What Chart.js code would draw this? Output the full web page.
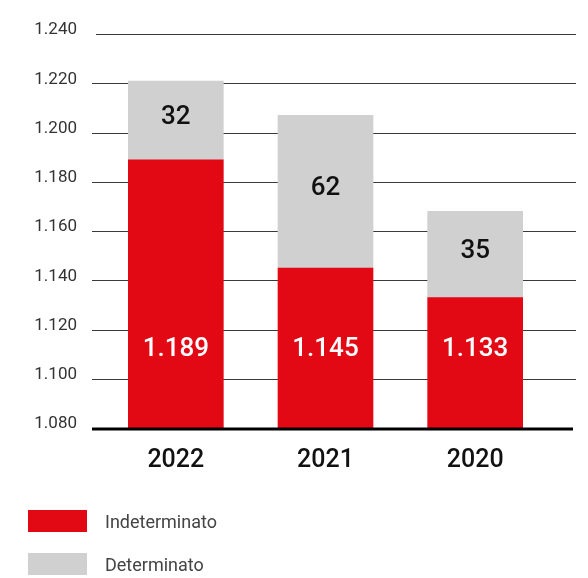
<!DOCTYPE html>
<html lang="it">
<head>
<meta charset="UTF-8">
<title>Indeterminato / Determinato</title>
<script src="https://cdn.jsdelivr.net/npm/chart.js"></script>
<style>
    html, body { margin: 0; padding: 0; background: #fff; }
    body { font-family: Roboto, sans-serif; width: 588px; height: 578px; position: relative; overflow: hidden; }
    #wrap { position: absolute; left: 0; top: 0; width: 588px; height: 578px; }
    #legend { position: absolute; left: 28px; top: 510px; }
    .item { display: flex; align-items: center; height: 22px; margin-bottom: 21px; }
    .box { width: 59px; height: 22px; margin-right: 18px; }
    .item span { font-size: 18px; color: #444; }
</style>
</head>
<body>
<div id="wrap"><canvas id="chart" width="588" height="578"></canvas></div>
<div id="legend"></div>

<script>
    // data
    const years = ['2022', '2021', '2020'];
    const indeterminato = [1189, 1145, 1133];
    const determinato = [32, 62, 35];
    const yTicks = [1080, 1100, 1120, 1140, 1160, 1180, 1200, 1220, 1240];

    const RED = '#e20814';
    const GREY = '#d0d0d0';

    const fmt = v => String(v).replace(/\B(?=(\d{3})+(?!\d))/g, '.');

    // gridlines drawn across to the right edge + thick baseline
    const gridPlugin = {
        id: 'grid',
        beforeDatasetsDraw(chart) {
            const ctx = chart.ctx;
            const y = chart.scales.y;
            ctx.save();
            yTicks.forEach(t => {
                if (t === yTicks[0]) return;
                const py = Math.round(y.getPixelForValue(t)) + 0.5;
                ctx.strokeStyle = '#3a3a3a';
                ctx.lineWidth = 1;
                ctx.beginPath();
                ctx.moveTo(t === 1240 ? 96 : 92, py);
                ctx.lineTo(576, py);
                ctx.stroke();
            });
            ctx.restore();
        },
        afterDatasetsDraw(chart) {
            const ctx = chart.ctx;
            const y = chart.scales.y;
            const py = y.getPixelForValue(yTicks[0]);
            ctx.save();
            ctx.strokeStyle = '#000';
            ctx.lineWidth = 3;
            ctx.beginPath();
            ctx.moveTo(92, py + 1);
            ctx.lineTo(573, py + 1);
            ctx.stroke();

            // value labels
            ctx.textAlign = 'center';
            ctx.textBaseline = 'middle';
            ctx.font = '500 26px Roboto';
            const m0 = chart.getDatasetMeta(0);
            const m1 = chart.getDatasetMeta(1);
            m0.data.forEach((bar, i) => {
                ctx.fillStyle = '#fff';
                ctx.fillText(fmt(indeterminato[i]), bar.x, y.getPixelForValue(1112));
            });
            m1.data.forEach((bar, i) => {
                ctx.fillStyle = '#111';
                ctx.fillText(fmt(determinato[i]), bar.x, (bar.y + bar.base) / 2 - 3);
            });
            ctx.restore();
        }
    };

    new Chart(document.getElementById('chart'), {
        type: 'bar',
        data: {
            labels: years,
            datasets: [
                { label: 'Indeterminato', data: indeterminato, backgroundColor: RED, barThickness: 95 },
                { label: 'Determinato', data: determinato, backgroundColor: GREY, barThickness: 95 }
            ]
        },
        options: {
            responsive: false,
            animation: false,
            layout: { padding: { top: 34, right: 38, left: 0, bottom: 0 } },
            plugins: { legend: { display: false }, tooltip: { enabled: false } },
            scales: {
                x: {
                    stacked: true,
                    grid: { display: false, drawTicks: false },
                    border: { display: false },
                    ticks: { color: '#111', font: { family: 'Roboto', size: 25, weight: '500' }, padding: 18 },
                    afterFit(s) { s.height = 150; }
                },
                y: {
                    stacked: true,
                    min: 1080,
                    max: 1240,
                    afterBuildTicks(s) { s.ticks = yTicks.map(v => ({ value: v })); },
                    grid: { display: false, drawTicks: false },
                    border: { display: false },
                    ticks: {
                        color: '#333',
                        font: { family: 'Roboto', size: 17 },
                        padding: 24,
                        labelOffset: -4,
                        callback: v => fmt(v)
                    },
                    afterFit(s) { s.width = 101; }
                }
            }
        },
        plugins: [gridPlugin]
    });

    // legend
    const legend = document.getElementById('legend');
    [['Indeterminato', RED], ['Determinato', GREY]].forEach(([name, col]) => {
        const d = document.createElement('div');
        d.className = 'item';
        d.innerHTML = '<div class="box" style="background:' + col + '"></div><span>' + name + '</span>';
        legend.appendChild(d);
    });
</script>
</body>
</html>
